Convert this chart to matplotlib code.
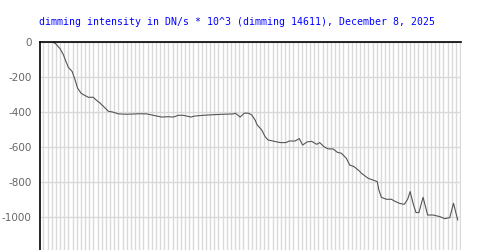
import matplotlib
matplotlib.use('Agg')
import matplotlib.pyplot as plt
import numpy as np

plt.rcParams['axes.unicode_minus'] = False

# sample position (one grid column per step) and dimming intensity
step = [2.4, 3.0, 4.0, 4.8, 5.4, 6.0, 6.9, 7.6, 8.2, 9.0, 9.6, 10.8, 12.0, 12.6, 13.6,
        14.8, 15.6, 16.6, 18.0, 20.0, 23.2, 24.8, 26.8, 28.4, 30.0, 31.2, 32.4, 33.6,
        35.4, 36.4, 38.4, 41.2, 45.6, 46.1, 47.2, 48.2, 49.2, 50.0, 50.8, 51.3, 52.4,
        53.2, 53.9, 55.1, 56.8, 58.2, 59.0, 60.4, 61.4, 62.2, 63.3, 64.4, 65.6, 66.3,
        67.3, 68.3, 69.5, 70.5, 71.5, 72.7, 73.5, 74.5, 75.8, 76.3, 77.9, 79.1, 80.1,
        80.5, 81.1, 82.3, 83.5, 84.3, 85.4, 86.6, 87.4, 88.0, 88.7, 89.4, 90.1, 91.1,
        92.2, 93.5, 95.1, 96.3, 97.5, 98.4, 99.4]
intensity = [-2, -11, -38, -72, -110, -145, -168, -215, -263, -291, -301, -316, -316,
             -330, -349, -377, -396, -400, -411, -413, -410, -411, -421, -429, -427,
             -429, -419, -419, -429, -423, -419, -415, -411, -407, -429, -407, -407,
             -417, -446, -474, -503, -541, -560, -566, -575, -575, -566, -566, -552,
             -589, -571, -568, -585, -575, -598, -611, -611, -630, -636, -665, -703,
             -712, -737, -750, -779, -789, -798, -846, -888, -899, -899, -910, -922,
             -928, -899, -855, -922, -975, -975, -888, -989, -989, -998, -1010, -1004,
             -922, -1017]
y_ticks = [0, -200, -400, -600, -800, -1000]

fig = plt.figure(figsize=(5, 2.5), dpi=100)
ax = fig.add_axes([0.08, 0.0, 0.842, 0.832])

ax.plot(step, intensity, color='#555555', linewidth=0.8)

ax.set_xlim(-0.8, 100.2)
ax.set_ylim(-1189, 0)
ax.set_xticks(np.arange(0, 101))
ax.set_yticks(y_ticks)
ax.grid(True, color='#d9d9d9', linewidth=1.0)
ax.set_axisbelow(True)
ax.tick_params(axis='x', length=0, labelbottom=False)
ax.tick_params(axis='y', length=0, pad=6, labelsize=7.5, labelcolor='#666666')

for side in ['right', 'bottom']:
    ax.spines[side].set_visible(False)
for side in ['left', 'top']:
    ax.spines[side].set_color('black')
    ax.spines[side].set_linewidth(1.2)

fig.text(0.078, 0.912, 'dimming intensity in DN/s * 10^3 (dimming 14611), December 8, 2025',
         ha='left', va='center', color='#0000ff', fontsize=7.1, family='DejaVu Sans Mono')

fig.savefig('out.png', dpi=100)
